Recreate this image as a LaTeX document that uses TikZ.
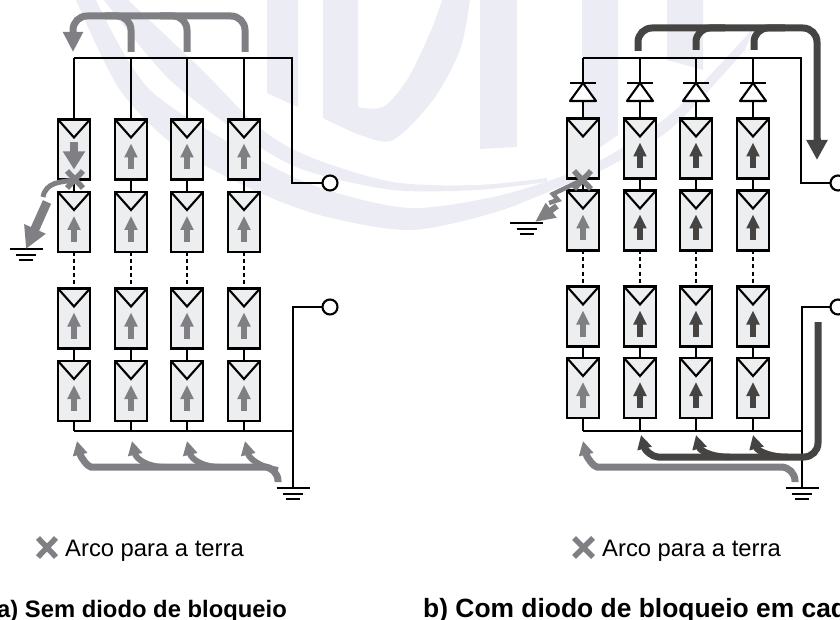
\documentclass[tikz,border=0pt]{standalone}
\usepackage{fontspec}
\setmainfont{Liberation Sans}
\usepackage{xcolor}
\usepackage{tikz}
\usetikzlibrary{arrows.meta}
\definecolor{flowgray}{HTML}{7F7F84}
\definecolor{flowdark}{HTML}{454442}
\definecolor{cellfill}{HTML}{EDEEF0}
\definecolor{markfill}{HTML}{ECECF5}
\newcommand{\pvcell}[3]{
	\node[cell] (#1) at (#2,#3) {};
	\draw[wire] (#1.north west) -- ++(16,18) -- (#1.north east);
}
\newcommand{\cellup}[2]{
	\draw[-{Triangle[length=14pt,width=12.5pt]},line width=5.5pt,#2] (#1.north) ++(0,50) -- ++(0,-26);
}
\begin{document}
\begin{tikzpicture}[
	x=1pt, y=-1pt,
	wire/.style={draw=black, line width=2.1pt},
	cell/.style={draw=black, fill=cellfill, line width=2.1pt, minimum width=32pt, minimum height=60pt, inner sep=0pt, outer sep=0pt},
	terminal/.style={circle, draw=black, fill=white, line width=2.1pt, minimum size=15pt, inner sep=0pt, outer sep=0pt},
	legend/.style={anchor=base west, inner sep=0pt, font=\fontsize{23.8}{26}\selectfont},
	caption/.style={anchor=base west, inner sep=0pt, font=\fontsize{23.8}{26}\selectfont\bfseries},
	captionb/.style={anchor=base west, inner sep=0pt, font=\fontsize{26.4}{28}\selectfont\bfseries},
	flow/.style={line width=7pt, rounded corners=14pt},
	headbig/.style={-{Triangle[length=20pt,width=19pt]}},
	headlow/.style={-{Triangle[length=14pt,width=14pt]}},
	faultx/.style={draw=flowgray, line width=5.5pt},
	gnd/.pic={
		\draw[line width=2.1pt] (-16.5,0) -- (16.5,0);
		\draw[line width=2.1pt] (-10,6) -- (10,6);
		\draw[line width=2.1pt] (-7,11) -- (7,11);
	}
]
\clip (0,0) rectangle (840,620);
\fill[markfill] (267,0) -- (298,0) -- (298,107) -- (267,93) -- cycle;
\fill[markfill] (323,0) -- plot[smooth] coordinates {(323,118) (360,135) (393,140) (433,100) (460,50) (470,0)} -- plot[smooth] coordinates {(442,0) (430,33) (407,80) (383,107) (358,107)} -- (358,0) -- cycle;
\fill[markfill] (480,0) -- (517,0) -- (517,147) -- (480,149) -- cycle;
\fill[markfill] (582,0) -- (618,0) -- (618,135) -- (582,160) -- cycle;
\fill[markfill] (667,0) -- (703,0) -- (703,70) -- (667,60) -- cycle;
\fill[markfill] plot[smooth] coordinates {(128,0) (200,68) (260,128) (310,157) (393,182) (477,185) (547,178)} -- plot[smooth] coordinates {(547,182) (477,190) (393,190) (310,172) (260,147) (170,80) (104,0)} -- cycle;
\fill[markfill] plot[smooth] coordinates {(96,0) (150,90) (260,160) (327,190) (410,208) (493,197) (560,177) (610,155) (673,112) (740,43) (755,25)} -- plot[smooth] coordinates {(745,50) (673,127) (610,166) (560,187) (493,213) (410,230) (327,217) (260,193) (180,150) (120,90) (76,0)} -- cycle;
\coordinate (busa) at (292,58);
\coordinate (basea) at (293,431);
\coordinate (groa) at (293,488);
\coordinate (gla) at (26,249);
\coordinate (busb) at (801,58);
\coordinate (baseb) at (802,431);
\coordinate (grob) at (802,488);
\coordinate (glb) at (526.5,223);
\node[terminal] (tupa) at (330,183) {};
\node[terminal] (tloa) at (330,307) {};
\node[terminal] (tupb) at (838,183) {};
\node[terminal] (tlob) at (838,307) {};
\foreach \n/\x in {1/74,2/131,3/187,4/244} {
	\foreach \r/\y in {a/149.5,b/222,c/318.5,d/391} {
		\pvcell{l\r\n}{\x}{\y}
	}
	\draw[wire] (la\n.south) -- (lb\n.north);
	\draw[wire, line width=2.4pt, dash pattern=on 4pt off 3pt] (lb\n.south) -- (lc\n.north);
	\draw[wire] (lc\n.south) -- (ld\n.north);
	\draw[wire] (la\n.north) -- (la\n.north |- busa);
	\draw[wire] (ld\n.south) -- (ld\n.south |- basea);
}
\foreach \n/\x in {1/583,2/640,3/696,4/753} {
	\foreach \r/\y in {a/148.5,b/220.5,c/316.5,d/388} {
		\pvcell{r\r\n}{\x}{\y}
	}
	\draw[wire] (ra\n.south) -- (rb\n.north);
	\draw[wire, line width=2.4pt, dash pattern=on 4pt off 3pt] (rb\n.south) -- (rc\n.north);
	\draw[wire] (rc\n.south) -- (rd\n.north);
	\coordinate (bar\n) at (\x,83);
	\coordinate (tip\n) at (\x,101);
	\draw[wire, fill=white, line join=round] (bar\n) -- ++(13,18) -- ++(-26,0) -- cycle;
	\draw[wire] (\x-13,83) -- (\x+13,83);
	\draw[wire] (ra\n.north) -- (tip\n);
	\draw[wire] (bar\n) -- (bar\n |- busb);
	\draw[wire] (rd\n.south) -- (rd\n.south |- baseb);
}
\draw[wire] (la1.north |- busa) -- (busa) |- (tupa);
\draw[wire] (ld1.south |- basea) -- (basea);
\draw[wire] (tloa) -| (groa);
\draw[wire] (ra1.north |- busb) -- (busb) |- (tupb);
\draw[wire] (rd1.south |- baseb) -- (baseb);
\draw[wire] (tlob) -| (grob);
\pic at (groa) {gnd};
\pic at (gla) {gnd};
\pic at (grob) {gnd};
\pic at (glb) {gnd};
\foreach \c in {lb1,lc1,ld1,la2,lb2,lc2,ld2,la3,lb3,lc3,ld3,la4,lb4,lc4,ld4,rb1,rc1,rd1} {
	\cellup{\c}{flowgray}
}
\foreach \c in {ra2,rb2,rc2,rd2,ra3,rb3,rc3,rd3,ra4,rb4,rc4,rd4} {
	\cellup{\c}{flowdark}
}
\draw[-{Triangle[length=18pt,width=21pt]},line width=8pt,flowgray] (la1.north) ++(0,23) -- ++(0,27);
\draw[flow,flowgray,headbig] (245,52) |- (73,16) -- (73,52);
\draw[flow,flowgray] (131,52) |- (105,16);
\draw[flow,flowgray] (187,52) |- (160,16);
\draw[flow,flowgray,headlow] (278,482) |- (105,467) .. controls (88,467) and (81,458) .. (77,441);
\draw[flowgray,line width=6pt,headlow] (165,467) .. controls (146,467) and (136,458) .. (132,441);
\draw[flowgray,line width=6pt,headlow] (220,467) .. controls (201,467) and (191,458) .. (187,441);
\draw[flowgray,line width=6pt,headlow] (278,470) .. controls (259,467) and (249,458) .. (245,441);
\draw[flow,flowgray,headlow] (795,482) |- (611,467) .. controls (594,467) and (587,458) .. (583,441);
\draw[flow,flowdark] (638,51) |- (817,28) -- (817,145);
\draw[flowdark,-{Triangle[length=20pt,width=20pt]},line width=7pt] (817,138) -- (817,160);
\draw[flow,flowdark] (696,50) |- (725,28);
\draw[flow,flowdark] (754,50) |- (785,28);
\draw[flow,flowdark,headlow] (818,322) |- (672,457) .. controls (652,457) and (645,450) .. (641,435);
\draw[flowdark,line width=6.5pt,headlow] (730,457) .. controls (710,457) and (700,450) .. (696,435);
\draw[flowdark,line width=6.5pt,headlow] (788,457) .. controls (768,457) and (757,450) .. (753,435);
\coordinate (fla) at (75,180);
\coordinate (flb) at (582,180);
\draw[faultx] (67,171) -- (83,188);
\draw[faultx] (83,171) -- (67,188);
\draw[flowgray,line width=5pt] (fla) .. controls (60,182) and (46,182) .. (43,197);
\draw[flowgray,line width=9pt,-{Triangle[length=22pt,width=22pt]}] (47,202) -- (gla);
\draw[faultx] (574,171) -- (591,189);
\draw[faultx] (591,171) -- (574,189);
\draw[flowgray,line width=4.5pt,line join=miter] (flb) -- (553,194) -- (558,200) -- (549,203);
\draw[flowgray,line width=6pt,-{Triangle[length=20pt,width=17pt]}] (557,206) -- (535,222);
\draw[faultx] (574,538) -- (593,557);
\draw[faultx] (593,538) -- (574,557);
\draw[faultx] (38,538) -- (56,557);
\draw[faultx] (56,538) -- (38,557);
\node[legend] (arcoa) at (65,556) {Arco para a terra};
\node[legend] (arcob) at (602,556) {Arco para a terra};
\node[caption] (capa) at (-3,617) {a) Sem diodo de bloqueio};
\node[captionb] (capb) at (423,617) {b) Com diodo de bloqueio em cad};
\end{tikzpicture}
\end{document}
